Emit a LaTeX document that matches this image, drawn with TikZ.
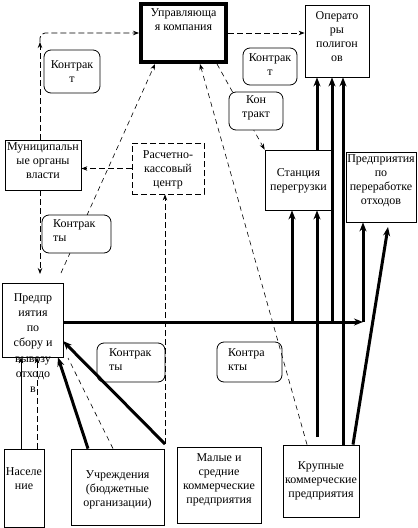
\documentclass[tikz,border=0pt]{standalone}
\usepackage{fontspec}
\setmainfont{Liberation Serif}
\newfontfamily\lserif{Liberation Serif}
\usetikzlibrary{arrows.meta,backgrounds}
\begin{document}
\begin{tikzpicture}[x=1pt,y=-1pt,
  box/.style 2 args={draw,line width=0.8pt,inner sep=0pt,minimum width=#1,minimum height=#2},
  ctr/.style 2 args={draw,line width=0.8pt,rounded corners=7pt,fill=white,inner sep=0pt,minimum width=#1,minimum height=#2},
  txt/.style={font=\lserif\fontsize{12}{14}\selectfont,align=center,inner sep=0pt},
  ltxt/.style={font=\lserif\fontsize{12}{14}\selectfont,align=left,inner sep=0pt},
  ar/.style={-{Stealth[length=6pt,width=4.5pt]}},
  tar/.style={-{Stealth[length=9pt,width=7pt]}},
  dsh/.style={dash pattern=on 6pt off 3pt,line width=0.8pt},
  tdsh/.style={dash pattern=on 5pt off 4pt,line width=0.6pt},
  thk/.style={line width=3pt},
  thn/.style={line width=0.8pt}]
\useasboundingbox (0,0) rectangle (418,528);

% main boxes
\node[box={85}{58},line width=4pt] (uk) at (183.5,33) {};
\node[txt] (ukT) at (183.5,20) {Управляюща\\я компания};
\node[box={64}{72}] (op) at (337,41) {};
\node[txt] (opT) at (337,37) {Операто\\ры\\полигон\\ов};
\node[box={76}{50}] (mun) at (43,165) {};
\node[txt] (munT) at (43,161) {Муниципальн\\ые органы\\власти};
\node[box={72}{51},dsh] (rkc) at (168,168.5) {};
\node[txt] (rkcT) at (168,170) {Расчетно-\\кассовый\\центр};
\node[box={67}{60}] (st) at (298.5,180) {};
\node[txt] (stT) at (298.5,181) {Станция\\перегрузки};
\node[box={70}{70}] (pr) at (381,187) {};
\node[txt] (prT) at (381,181) {Предприятия\\по\\переработке\\отходов};
\node[box={61}{74}] (coll) at (32.5,320) {};
\node[txt,font=\lserif\fontsize{12}{15.3}\selectfont] (collT) at (33,343) {Предпр\\иятия\\по\\сбору и\\вывозу\\отходо\\в};
\node[box={40}{78}] (nas) at (24,488) {};
\node[txt] (nasT) at (24,478.5) {Населе\\ние};
\node[box={93}{76}] (uch) at (117.5,487) {};
\node[txt] (uchT) at (117.5,490) {Учреждения\\(бюджетные\\организации)};
\node[box={84}{76}] (mal) at (219,485) {};
\node[txt] (malT) at (219,479.5) {Малые и\\средние\\коммерческие\\предприятия};
\node[box={76}{72}] (kr) at (321,481) {};
\node[txt] (krT) at (321,481) {Крупные\\коммерческие\\предприятия};

% free ends
\coordinate (c1) at (40,42);
\coordinate (d1) at (40,274);
\coordinate (d2) at (61,273);
\coordinate (u1) at (165,444);
\coordinate (h) at (363,322);
\coordinate (h292) at (292,322);
\coordinate (h332) at (332,322);
\coordinate (v317) at (317,437);
\coordinate (p1) at (388,227);
\coordinate (k1) at (63,341);
\coordinate (q1) at (68,358);

% connectors behind contract boxes
\begin{pgfonlayer}{background}
\fill[white] (0,0) rectangle (418,528);
\draw[tdsh,ar] ([xshift=33.5pt]uk.south) -- (st.north west);
\draw[tdsh,ar] (d2) -- ([xshift=-28.5pt]uk.south);
\end{pgfonlayer}

% contract boxes
\node[ctr={56}{43}] (ca) at (72,71.5) {};
\node[txt] (caT) at (72,71.5) {Контрак\\т};
\node[ctr={54}{37}] (cb) at (270,66.5) {};
\node[txt] (cbT) at (270,64.5) {Контрак\\т};
\node[ctr={54}{38}] (cc) at (256,111) {};
\node[txt] (ccT) at (256,107.5) {Кон\\тракт};
\node[ctr={69}{38}] (cd) at (76.5,234) {};
\node[ltxt,anchor=west] (cdT) at (53,231) {Контрак\\ты};
\node[ctr={68}{39}] (ce) at (131,362.5) {};
\node[ltxt,anchor=west] (ceT) at (109,360) {Контрак\\ты};
\node[ctr={65}{40}] (cf) at (249.5,362) {};
\node[ltxt,anchor=west] (cfT) at (228,360) {Контра\\кты};

% dashed connectors
\draw[dsh,ar] ([xshift=-3pt]mun.north) -- (c1);
\draw[dsh,ar,rounded corners=5pt] (c1) |- (uk.west);
\draw[dsh,ar] (uk.east) -- (op.west |- uk.east);
\draw[dsh,ar] ([xshift=-3pt]mun.south) -- (d1);
\draw[dsh,ar] (rkc.west) -- (mun.east |- rkc.west);
\draw[dsh,ar] (u1) -- (rkc.south -| u1);
\draw[tdsh,ar] ([xshift=-14pt]kr.north) -- ([xshift=16.5pt]uk.south);
\draw[dsh,ar] ([xshift=13pt]nas.north) -- ([xshift=4.5pt]coll.south);
\draw[tdsh] ([xshift=-4.5pt]uch.north) -- (q1);

% thick flows
\draw[thk,tar] (coll.east |- h) -- (h);
\draw[thk,tar] (h) -- (pr.south -| h);
\draw[thk,tar] (h292) -- (st.south -| h292);
\draw[thk,tar] (h332) -- (op.south -| h332);
\draw[thk,tar] (v317) -- (st.south -| v317);
\draw[thk,tar] (st.north -| v317) -- (op.south -| v317);
\draw[thk,tar] ([xshift=22pt]kr.north) -- ([xshift=6pt]op.south);
\draw[thk,tar] ([xshift=32pt]kr.north) -- (p1);
\draw[thk,tar] (u1) -- (k1);
\draw[thk,tar] ([xshift=-29.5pt]uch.north) -- ([xshift=25.5pt]coll.south);
\draw[thn,ar] ([xshift=-3pt]nas.north) -- ([xshift=-11.5pt]coll.south);
\end{tikzpicture}
\end{document}
